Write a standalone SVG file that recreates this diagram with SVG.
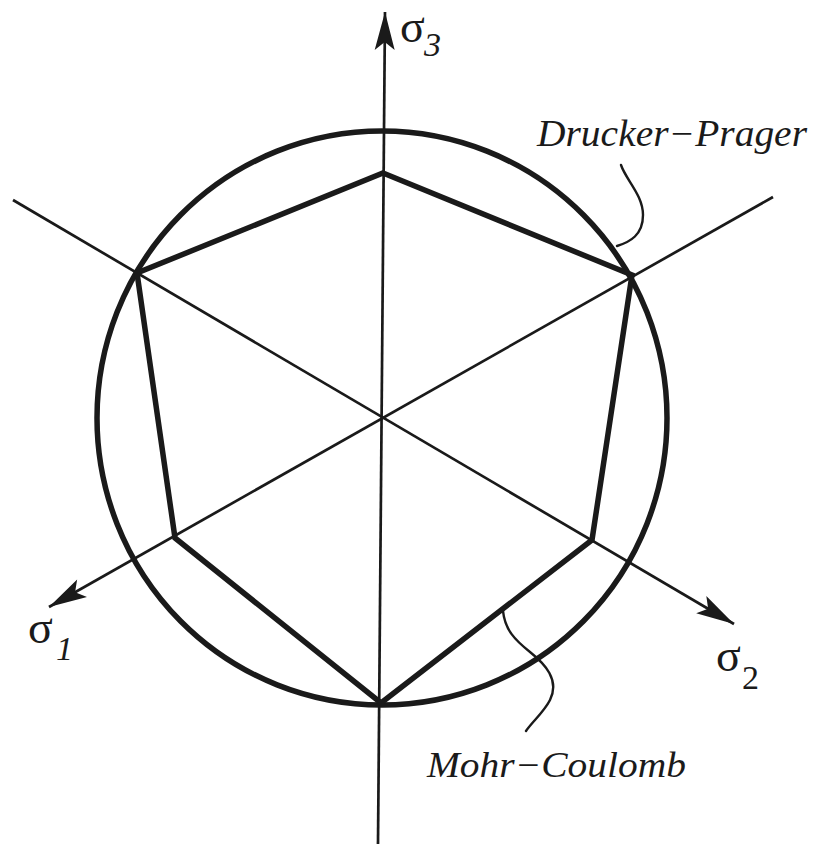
<svg xmlns="http://www.w3.org/2000/svg" width="814" height="844" viewBox="0 0 814 844">
<style>
.axis{stroke:#1a1a1a;stroke-width:2.7;fill:none}
.thick{stroke:#1a1a1a;stroke-width:5.5;fill:none;stroke-linejoin:miter}
.leader{stroke:#1a1a1a;stroke-width:2.4;fill:none;stroke-linecap:round}
.sig{font-family:"Liberation Serif","DejaVu Serif",serif;font-size:46px;fill:#1a1a1a}
.sub{font-family:"Liberation Serif","DejaVu Serif",serif;font-size:34px;fill:#1a1a1a}
.lab{font-family:"Liberation Serif","DejaVu Serif",serif;font-style:italic;fill:#1a1a1a}
</style>
<defs>
<marker id="arr" markerUnits="userSpaceOnUse" markerWidth="44" markerHeight="24" refX="40" refY="11" orient="auto" viewBox="0 0 44 24">
<path d="M40,11 L2,1 L10,11 L2,21 Z" fill="#1a1a1a"/>
</marker>
</defs>
<g id="connectors">
<line class="axis" x1="378" y1="844" x2="385" y2="12" marker-end="url(#arr)"/>
<line class="axis" x1="13" y1="200" x2="734" y2="624" marker-end="url(#arr)"/>
<line class="axis" x1="773" y1="197" x2="49" y2="607" marker-end="url(#arr)"/>
<path class="leader" d="M621,165 C626,180 643,195 643,215 C643,235 630,242 617,246"/>
<path class="leader" d="M503,611 C505,630 515,640 530,652 C545,664 560,680 550,700 C544,712 532,722 526,731"/>
</g>
<g id="drucker-prager">
<ellipse class="thick" cx="382" cy="418" rx="285" ry="287"/>
</g>
<g id="mohr-coulomb">
<polygon class="thick" points="383,173 632,275 592,540 381,703 175,538 137,273"/>
</g>
<g id="labels">
<text class="sig" x="400" y="42" font-size="40">σ</text><text class="sub" x="424" y="56" font-style="italic" font-size="32">3</text>
<text class="sig" x="28" y="643">σ</text><text class="sub" x="56" y="660" font-style="italic">1</text>
<text class="sig" x="716" y="671">σ</text><text class="sub" x="742" y="689">2</text>
<text class="lab" x="537" y="146" font-size="37" textLength="270" lengthAdjust="spacingAndGlyphs">Drucker−Prager</text>
<text class="lab" x="427" y="777" font-size="36" textLength="259" lengthAdjust="spacingAndGlyphs" fill="#333">Mohr−Coulomb</text>
</g>
</svg>
